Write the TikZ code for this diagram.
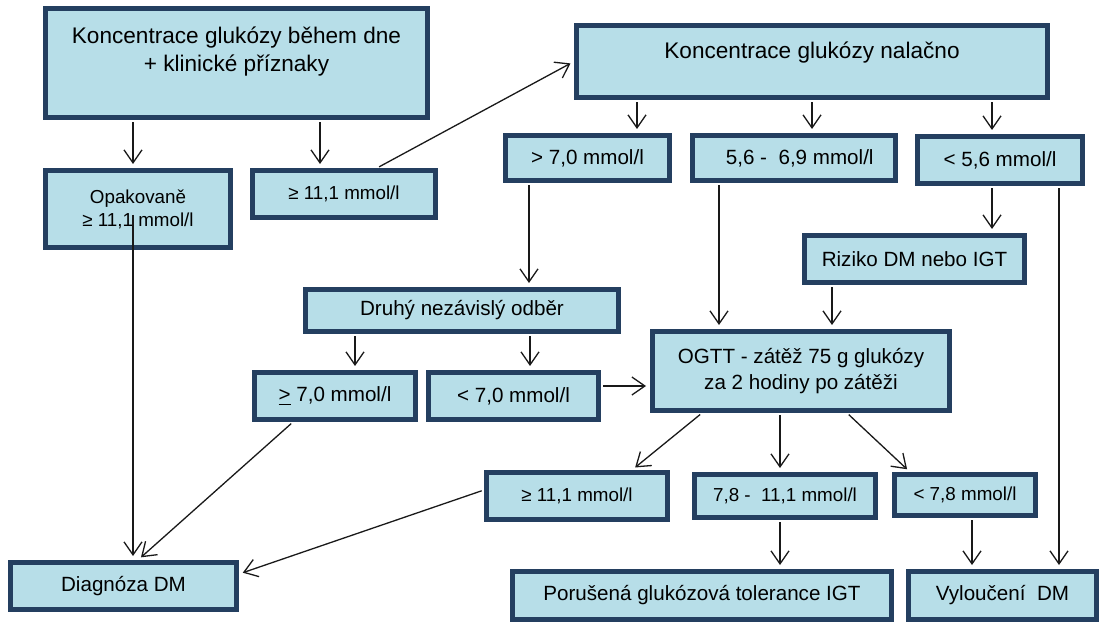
\documentclass[tikz,border=0pt]{standalone}
\usepackage{fontspec}
\setmainfont{Liberation Sans}
\usepackage{xcolor}
\usepackage{tikz}
\usetikzlibrary{arrows.meta}
\definecolor{boxfill}{RGB}{183,222,232}
\definecolor{boxline}{RGB}{36,63,96}
\definecolor{arrline}{RGB}{25,25,25}
\tikzset{
	box/.style={draw=boxline, line width=2.5pt, fill=boxfill, align=center, inner sep=0pt, font=\fontsize{10.3}{13}\selectfont},
	small/.style={font=\fontsize{9.4}{11.5}\selectfont},
	big/.style={font=\fontsize{11.3}{14}\selectfont},
	arr/.style={draw=arrline, line width=0.65pt, -{Straight Barb[length=6.5pt,width=9pt]}, shorten >=2pt, shorten <=1.2pt}
}

\begin{document}
\begin{tikzpicture}[x=0.5pt,y=-0.5pt]
					\useasboundingbox (0,0) rectangle (1101,624);
					
					\node (A) at (236.5,63) [box,big,minimum width=191pt,minimum height=54.5pt] {Koncentrace glukózy během dne\\+ klinické příznaky\\\mbox{}};
					\node (Opak) at (138,209) [box,small,minimum width=92.5pt,minimum height=38.5pt] {Opakovaně\\≥ 11,1 mmol/l};
					\node (B) at (344,194) [box,small,minimum width=91.5pt,minimum height=23.5pt] {≥ 11,1 mmol/l};
					\node (C) at (812,61.5) [box,big,minimum width=235.5pt,minimum height=36pt] {Koncentrace glukózy nalačno\\[-3pt]\mbox{}};
					\node (gt70) at (587.5,158) [box,minimum width=82pt,minimum height=22.5pt] {> 7,0 mmol/l};
					\node (r56) at (794,158) [box,minimum width=101.5pt,minimum height=22.5pt] {\ \ 5,6 -\ \ 6,9 mmol/l};
					\node (lt56) at (1000,160) [box,minimum width=82.5pt,minimum height=23.5pt] {< 5,6 mmol/l};
					\node (Riziko) at (914.5,259) [box,minimum width=110pt,minimum height=23.5pt] {Riziko DM nebo IGT};
					\node (Druhy) at (462,310.5) [box,minimum width=156.5pt,minimum height=21pt] {Druhý nezávislý odběr};
					\node (ge70) at (335,396) [box,minimum width=80.5pt,minimum height=23.5pt] {\underline{>} 7,0 mmol/l};
					\node (lt70) at (513.5,396) [box,minimum width=85pt,minimum height=23.5pt] {< 7,0 mmol/l};
					\node (OGTT) at (801,371) [box,minimum width=148.5pt,minimum height=39.5pt] {OGTT - zátěž 75 g glukózy\\za 2 hodiny po zátěži};
					\node (ge111) at (577,496) [box,small,minimum width=90.5pt,minimum height=23.5pt] {≥ 11,1 mmol/l};
					\node (r78) at (785,496) [box,small,minimum width=90.5pt,minimum height=21.5pt] {7,8 -\ \ 11,1 mmol/l};
					\node (lt78) at (965,495) [box,small,minimum width=70.5pt,minimum height=20.5pt] {< 7,8 mmol/l};
					\node (Diag) at (123.5,586) [box,minimum width=113pt,minimum height=23.5pt] {Diagnóza DM};
					\node (Poru) at (702,595.5) [box,minimum width=189.5pt,minimum height=24pt] {Porušená glukózová tolerance IGT};
					\node (Vylou) at (1002.5,595.5) [box,minimum width=94pt,minimum height=24pt] {Vyloučení\ \ DM};
					
					\coordinate (opakend) at (133,215);
					
					\draw[arr] (133,0 |- A.south) -- (133,0 |- Opak.north);
					\draw[arr] (320,0 |- A.south) -- (320,0 |- B.north);
					\draw[arr] (377,0 |- B.north) -- (C.west);
					\draw[arr] (637,0 |- C.south) -- (637,0 |- gt70.north);
					\draw[arr] (812,0 |- C.south) -- (812,0 |- r56.north);
					\draw[arr] (992,0 |- C.south) -- (992,0 |- lt56.north);
					\draw[arr] (529,0 |- gt70.south) -- (529,0 |- Druhy.north);
					\draw[arr] (719,0 |- r56.south) -- (719,0 |- OGTT.north);
					\draw[arr] (992,0 |- lt56.south) -- (992,0 |- Riziko.north);
					\draw[arr] (1059,0 |- lt56.south) -- (1059,0 |- Vylou.north);
					\draw[arr] (832,0 |- Riziko.south) -- (832,0 |- OGTT.north);
					\draw[arr] (355,0 |- Druhy.south) -- (355,0 |- ge70.north);
					\draw[arr] (530,0 |- Druhy.south) -- (530,0 |- lt70.north);
					\draw[arr] (lt70.east |- 0,386) -- (OGTT.west |- 0,386);
					\draw[arr,shorten <=0pt] (opakend) -- (opakend |- Diag.north);
					\draw[arr] (293,0 |- ge70.south) -- (138,0 |- Diag.north);
					\draw[arr] (ge111.west |- 0,490) -- (Diag.east |- 0,574);
					\draw[arr] (702,0 |- OGTT.south) -- (632,0 |- ge111.north);
					\draw[arr] (780,0 |- OGTT.south) -- (780,0 |- r78.north);
					\draw[arr] (847,0 |- OGTT.south) -- (910,0 |- lt78.north);
					\draw[arr] (780,0 |- r78.south) -- (780,0 |- Poru.north);
					\draw[arr] (972,0 |- lt78.south) -- (972,0 |- Vylou.north);
				\end{tikzpicture}
\end{document}
